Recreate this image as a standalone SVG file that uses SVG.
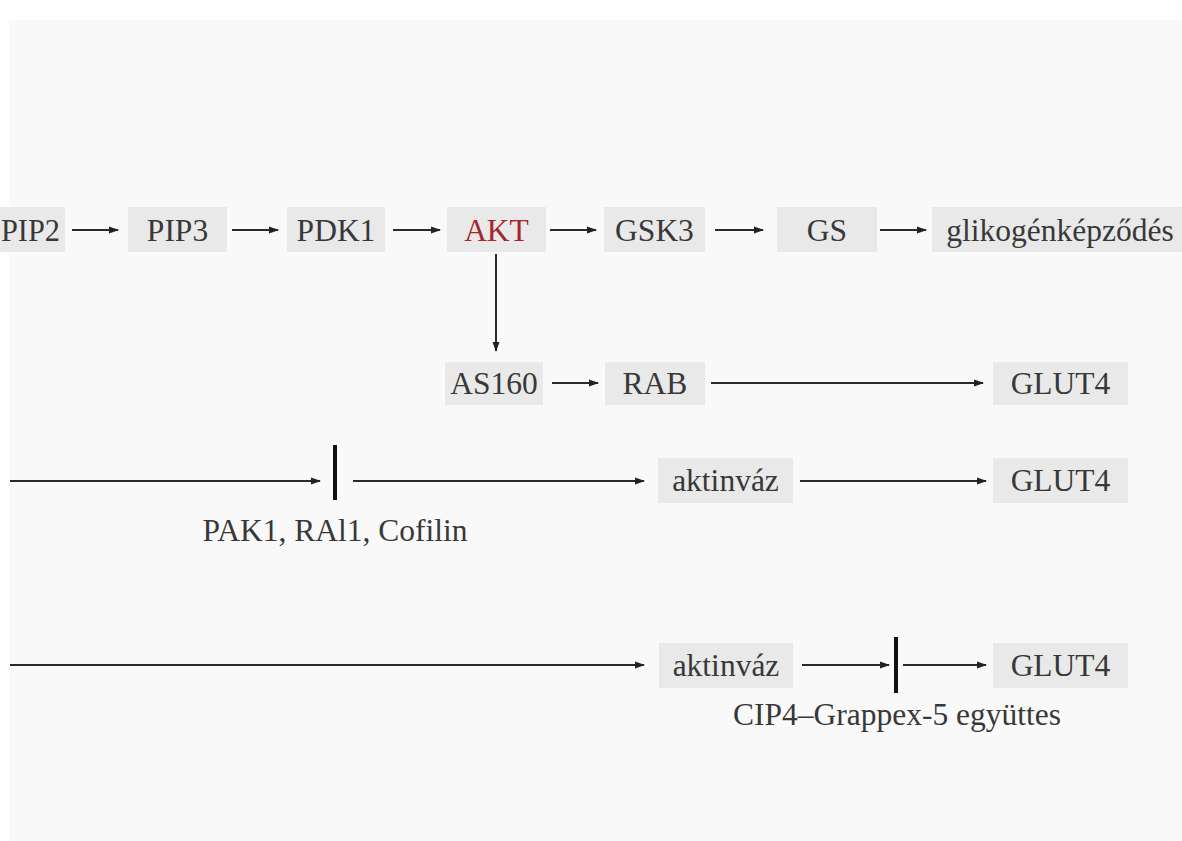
<svg xmlns="http://www.w3.org/2000/svg" width="1182" height="841" viewBox="0 0 1182 841">
<defs>
<marker id="ah" markerWidth="10" markerHeight="8" refX="9" refY="4" orient="auto" markerUnits="userSpaceOnUse">
<path d="M0,0.5 L10,4 L0,7.5 z" fill="#222"/>
</marker>
<style>
.box{fill:#e9e9e9}
.t{font-family:"Liberation Serif","Times New Roman",serif;font-size:31.5px;fill:#383838;text-anchor:middle}
.red{fill:#a3272b}
.c{stroke:#2a2a2a;stroke-width:2;fill:none}
.a{marker-end:url(#ah)}
.bar{stroke:#111;stroke-width:4}
</style>
</defs>
<rect width="1182" height="841" fill="#ffffff"/>
<rect x="9" y="20" width="1173" height="821" fill="#f9f9f9"/>

<g id="connectors">
<line class="c a" x1="72" y1="230" x2="118" y2="230"/>
<line class="c a" x1="232" y1="230" x2="278" y2="230"/>
<line class="c a" x1="393" y1="230" x2="440" y2="230"/>
<line class="c a" x1="550" y1="230" x2="596" y2="230"/>
<line class="c a" x1="715" y1="230" x2="763" y2="230"/>
<line class="c a" x1="880" y1="230" x2="926" y2="230"/>
<line class="c a" x1="496" y1="254" x2="496" y2="351"/>
<line class="c a" x1="552" y1="383" x2="598" y2="383"/>
<line class="c a" x1="711" y1="383" x2="983" y2="383"/>
<line class="c a" x1="10" y1="481" x2="320" y2="481"/>
<line class="bar" x1="335" y1="445" x2="335" y2="500"/>
<line class="c a" x1="353" y1="481" x2="644" y2="481"/>
<line class="c a" x1="800" y1="481" x2="986" y2="481"/>
<line class="c a" x1="10" y1="665" x2="644" y2="665"/>
<line class="c a" x1="802" y1="665" x2="889" y2="665"/>
<line class="bar" x1="896" y1="637" x2="896" y2="693"/>
<line class="c a" x1="903" y1="665" x2="986" y2="665"/>
</g>

<g id="n-pip2"><rect class="box" x="0" y="207" width="65" height="45"/><text class="t" x="1" y="241" style="text-anchor:start" textLength="59" lengthAdjust="spacingAndGlyphs">PIP2</text></g>
<g id="n-pip3"><rect class="box" x="128" y="207" width="99" height="45"/><text class="t" x="177.5" y="241">PIP3</text></g>
<g id="n-pdk1"><rect class="box" x="287" y="207" width="98" height="45"/><text class="t" x="336" y="241">PDK1</text></g>
<g id="n-akt"><rect class="box" x="447" y="207" width="99" height="45"/><text class="t red" x="496.5" y="241">AKT</text></g>
<g id="n-gsk3"><rect class="box" x="604" y="207" width="101" height="45"/><text class="t" x="654.5" y="241">GSK3</text></g>
<g id="n-gs"><rect class="box" x="777" y="207" width="100" height="45"/><text class="t" x="827" y="241">GS</text></g>
<g id="n-glikogen"><rect class="box" x="932" y="207" width="260" height="45"/><text class="t" x="1060" y="241">glikogénképződés</text></g>

<g id="n-as160"><rect class="box" x="445" y="362" width="98" height="43"/><text class="t" x="494" y="394">AS160</text></g>
<g id="n-rab"><rect class="box" x="605" y="362" width="100" height="43"/><text class="t" x="655" y="394">RAB</text></g>
<g id="n-glut4a"><rect class="box" x="993" y="362" width="135" height="43"/><text class="t" x="1060.5" y="394">GLUT4</text></g>

<g id="n-aktin1"><rect class="box" x="658" y="458" width="135" height="45"/><text class="t" x="725.5" y="491">aktinváz</text></g>
<g id="n-glut4b"><rect class="box" x="993" y="458" width="135" height="45"/><text class="t" x="1060.5" y="491">GLUT4</text></g>
<g id="l-pak"><text class="t" x="335" y="541">PAK1, RAl1, Cofilin</text></g>

<g id="n-aktin2"><rect class="box" x="659" y="643" width="134" height="45"/><text class="t" x="726" y="676">aktinváz</text></g>
<g id="n-glut4c"><rect class="box" x="993" y="643" width="135" height="45"/><text class="t" x="1060.5" y="676">GLUT4</text></g>
<g id="l-cip4"><text class="t" x="897" y="725">CIP4–Grappex-5 együttes</text></g>
</svg>
